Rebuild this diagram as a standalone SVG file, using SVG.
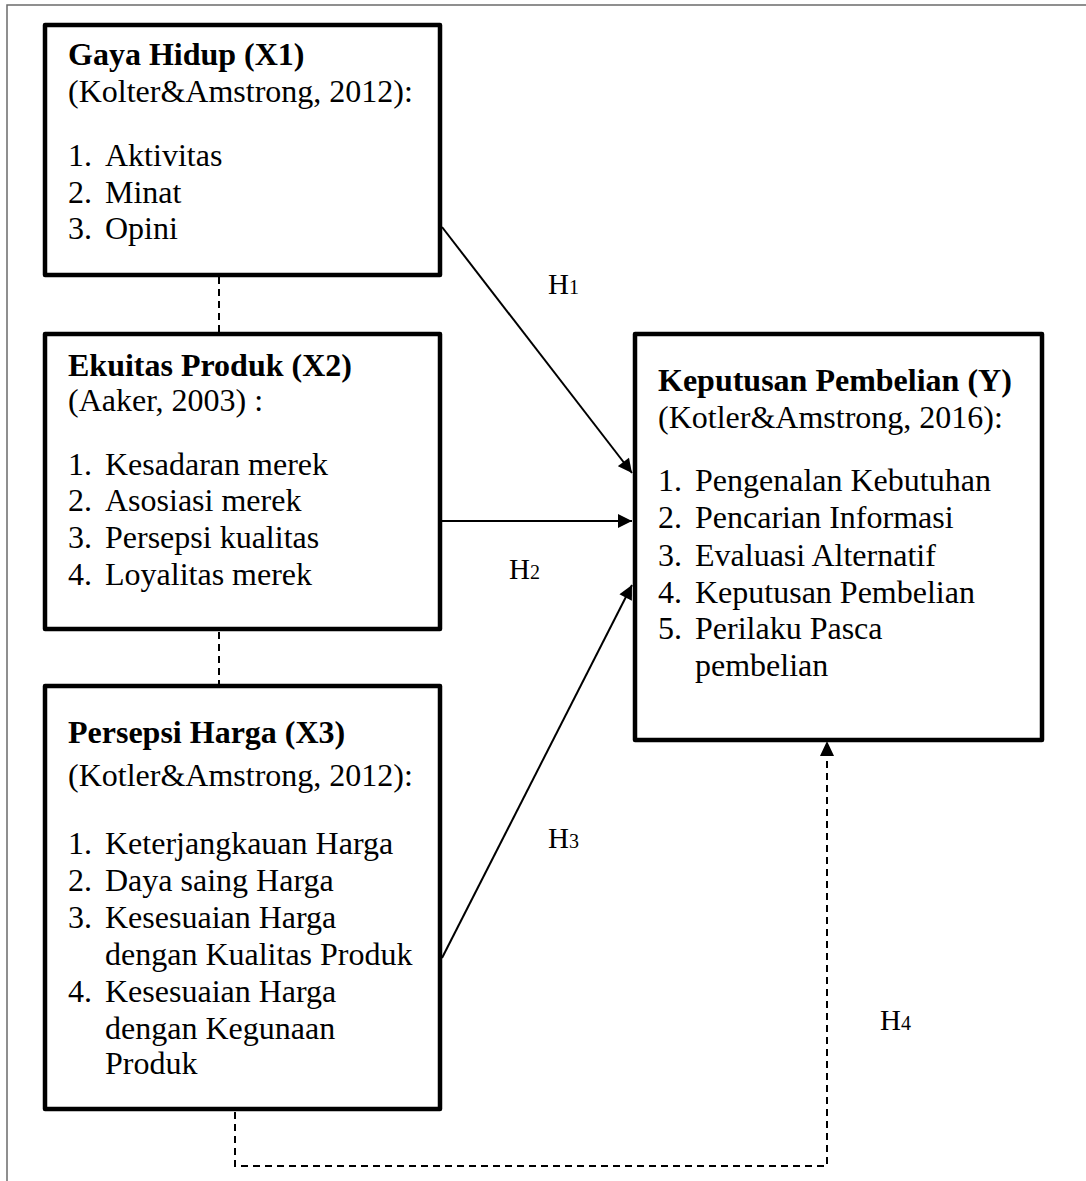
<svg xmlns="http://www.w3.org/2000/svg" width="1086" height="1181" viewBox="0 0 1086 1181">
<defs>
<style>
.box{fill:#fff;stroke:#000;stroke-width:4.5;stroke-linejoin:round}
text{font-family:"Liberation Serif","Times New Roman",serif;font-size:32px;fill:#000}
.b{font-weight:bold}
.con{fill:none;stroke:#000;stroke-width:2}
.dash{fill:none;stroke:#000;stroke-width:2;stroke-dasharray:7 5}
.lbl{font-size:29px}
.sub{font-size:20px}
</style>
<marker id="ah" viewBox="0 0 10 10" refX="10" refY="5" markerWidth="15" markerHeight="14" markerUnits="userSpaceOnUse" orient="auto">
<path d="M0,0 L10,5 L0,10 z" fill="#000"/>
</marker>
</defs>
<rect x="0" y="0" width="1086" height="1181" fill="#fff"/>
<path d="M7,1181 V5 H1086" fill="none" stroke="#6b6b6b" stroke-width="1.5"/>

<g id="connectors">
<line class="dash" x1="219" y1="277" x2="219" y2="332"/>
<line class="dash" x1="219" y1="632" x2="219" y2="684"/>
<line class="con" x1="442" y1="227" x2="632" y2="473" marker-end="url(#ah)"/>
<line class="con" x1="442" y1="521" x2="632" y2="521" marker-end="url(#ah)"/>
<line class="con" x1="442" y1="958" x2="632" y2="585" marker-end="url(#ah)"/>
<path class="dash" d="M235,1112 V1166 H827 V746"/>
<path d="M827,741 L820,756 L834,756 z" fill="#000"/>
<text class="lbl" x="548" y="294">H<tspan class="sub">1</tspan></text>
<text class="lbl" x="509" y="579">H<tspan class="sub">2</tspan></text>
<text class="lbl" x="548" y="848">H<tspan class="sub">3</tspan></text>
<text class="lbl" x="880" y="1030">H<tspan class="sub">4</tspan></text>
</g>

<g id="x1">
<rect class="box" x="45" y="25" width="395" height="250"/>
<text class="b" x="68" y="65">Gaya Hidup (X1)</text>
<text x="68" y="102">(Kolter&amp;Amstrong, 2012):</text>
<text x="68" y="166">1.</text><text x="105" y="166">Aktivitas</text>
<text x="68" y="203">2.</text><text x="105" y="203">Minat</text>
<text x="68" y="239">3.</text><text x="105" y="239">Opini</text>
</g>

<g id="x2">
<rect class="box" x="45" y="334" width="395" height="295"/>
<text class="b" x="68" y="376">Ekuitas Produk (X2)</text>
<text x="68" y="411">(Aaker, 2003) :</text>
<text x="68" y="475">1.</text><text x="105" y="475">Kesadaran merek</text>
<text x="68" y="511">2.</text><text x="105" y="511">Asosiasi merek</text>
<text x="68" y="548">3.</text><text x="105" y="548">Persepsi kualitas</text>
<text x="68" y="585">4.</text><text x="105" y="585">Loyalitas merek</text>
</g>

<g id="x3">
<rect class="box" x="45" y="686" width="395" height="423"/>
<text class="b" x="68" y="743">Persepsi Harga (X3)</text>
<text x="68" y="786">(Kotler&amp;Amstrong, 2012):</text>
<text x="68" y="854">1.</text><text x="105" y="854">Keterjangkauan Harga</text>
<text x="68" y="891">2.</text><text x="105" y="891">Daya saing Harga</text>
<text x="68" y="928">3.</text><text x="105" y="928">Kesesuaian Harga</text>
<text x="105" y="965">dengan Kualitas Produk</text>
<text x="68" y="1002">4.</text><text x="105" y="1002">Kesesuaian Harga</text>
<text x="105" y="1039">dengan Kegunaan</text>
<text x="105" y="1074">Produk</text>
</g>

<g id="y">
<rect class="box" x="635" y="334" width="407" height="406"/>
<text class="b" x="658" y="391">Keputusan Pembelian (Y)</text>
<text x="658" y="428">(Kotler&amp;Amstrong, 2016):</text>
<text x="658" y="491">1.</text><text x="695" y="491">Pengenalan Kebutuhan</text>
<text x="658" y="528">2.</text><text x="695" y="528">Pencarian Informasi</text>
<text x="658" y="566">3.</text><text x="695" y="566">Evaluasi Alternatif</text>
<text x="658" y="603">4.</text><text x="695" y="603">Keputusan Pembelian</text>
<text x="658" y="639">5.</text><text x="695" y="639">Perilaku Pasca</text>
<text x="695" y="676">pembelian</text>
</g>
</svg>
